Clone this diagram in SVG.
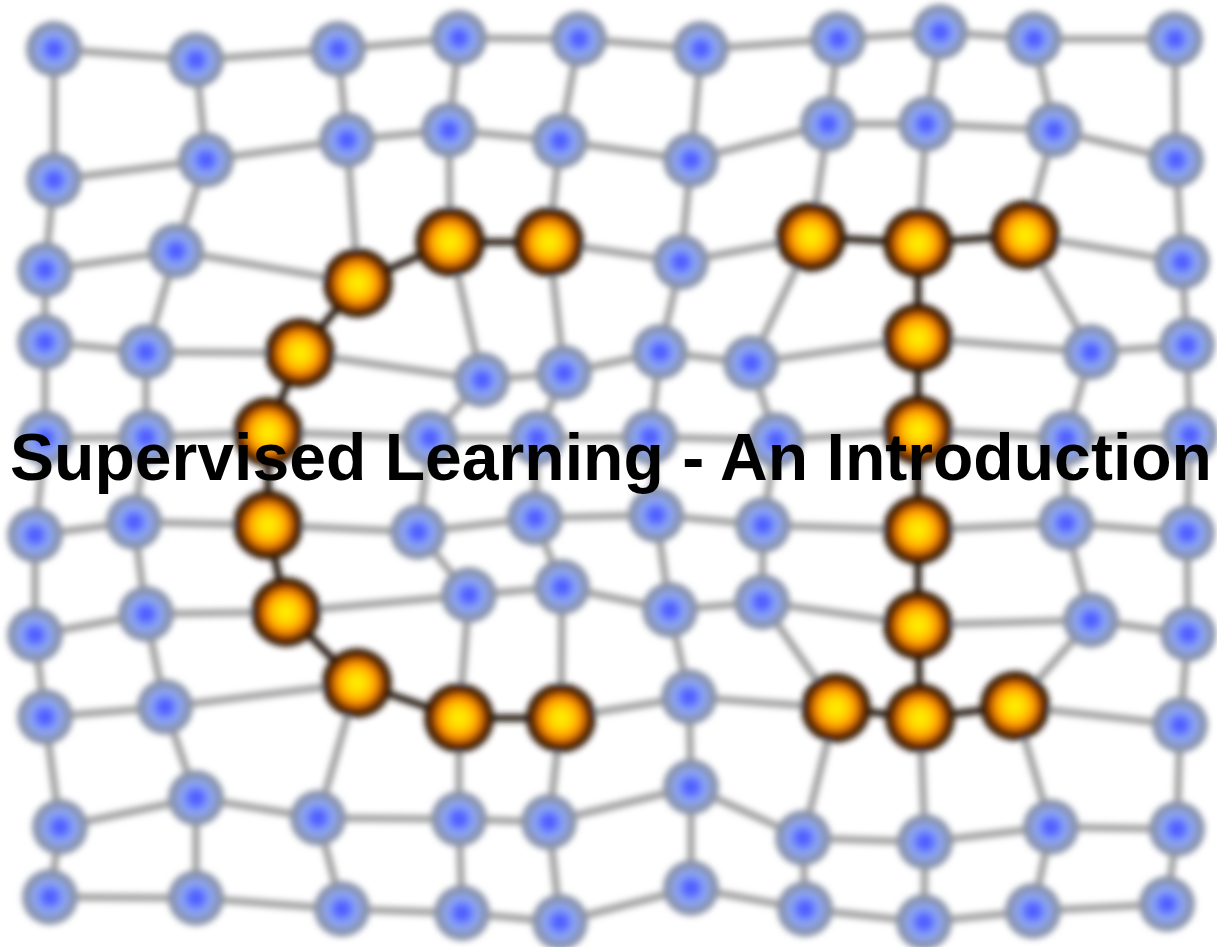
<svg xmlns="http://www.w3.org/2000/svg" xmlns:xlink="http://www.w3.org/1999/xlink" width="1217" height="947" viewBox="0 0 1217 947">
<style>
.e{stroke:#a0a0a0;stroke-width:7.5;stroke-linecap:round}
.d{stroke:#261c12;stroke-width:7.5;stroke-linecap:round}
.t{font-family:"Liberation Sans",Arial,sans-serif;font-weight:bold;font-size:66px;fill:#000}
</style>
<defs>
<radialGradient id="gb">
<stop offset="0" stop-color="#4a58ff"/>
<stop offset="0.22" stop-color="#5565ff"/>
<stop offset="0.46" stop-color="#849ff8"/>
<stop offset="0.62" stop-color="#8fa4e6"/>
<stop offset="0.78" stop-color="#8694b4"/>
<stop offset="1" stop-color="#8890a2"/>
</radialGradient>
<radialGradient id="go">
<stop offset="0" stop-color="#fff400"/>
<stop offset="0.3" stop-color="#ffd400"/>
<stop offset="0.55" stop-color="#ff9600"/>
<stop offset="0.7" stop-color="#b05000"/>
<stop offset="0.82" stop-color="#4a2206"/>
<stop offset="1" stop-color="#1c0e06"/>
</radialGradient>
<circle id="bn" r="28" fill="url(#gb)"/>
<circle id="on" r="35" fill="url(#go)"/>
<filter id="blur" filterUnits="userSpaceOnUse" x="-30" y="-30" width="1277" height="1007">
<feGaussianBlur stdDeviation="3"/>
</filter>
</defs>
<rect width="1217" height="947" fill="#fff"/>
<g filter="url(#blur)">
<g id="connectors">
<line class="e" x1="54" y1="49" x2="196" y2="60"/><line class="e" x1="196" y1="60" x2="338" y2="49"/><line class="e" x1="338" y1="49" x2="459" y2="38"/><line class="e" x1="459" y1="38" x2="579" y2="39"/><line class="e" x1="579" y1="39" x2="701" y2="49"/><line class="e" x1="701" y1="49" x2="838" y2="39"/><line class="e" x1="838" y1="39" x2="940" y2="32"/><line class="e" x1="940" y1="32" x2="1034" y2="39"/><line class="e" x1="1034" y1="39" x2="1175" y2="39"/>
<line class="e" x1="54" y1="180" x2="206" y2="160"/><line class="e" x1="206" y1="160" x2="347" y2="140"/><line class="e" x1="347" y1="140" x2="449" y2="130"/><line class="e" x1="449" y1="130" x2="560" y2="141"/><line class="e" x1="560" y1="141" x2="691" y2="160"/><line class="e" x1="691" y1="160" x2="828" y2="124"/><line class="e" x1="828" y1="124" x2="926" y2="124"/><line class="e" x1="926" y1="124" x2="1054" y2="130"/><line class="e" x1="1054" y1="130" x2="1176" y2="160"/>
<line class="e" x1="45" y1="270" x2="176" y2="251"/><line class="e" x1="176" y1="251" x2="358" y2="283"/><line class="d" x1="358" y1="283" x2="450" y2="242"/><line class="d" x1="450" y1="242" x2="549" y2="242"/><line class="e" x1="549" y1="242" x2="681" y2="262"/><line class="e" x1="681" y1="262" x2="811" y2="237"/><line class="d" x1="811" y1="237" x2="918" y2="243"/><line class="d" x1="918" y1="243" x2="1025" y2="235"/><line class="e" x1="1025" y1="235" x2="1182" y2="262"/>
<line class="e" x1="45" y1="342" x2="146" y2="352"/><line class="e" x1="146" y1="352" x2="300" y2="353"/><line class="e" x1="300" y1="353" x2="482" y2="380"/><line class="e" x1="482" y1="380" x2="564" y2="373"/><line class="e" x1="564" y1="373" x2="660" y2="352"/><line class="e" x1="660" y1="352" x2="751" y2="363"/><line class="e" x1="751" y1="363" x2="918" y2="338"/><line class="e" x1="918" y1="338" x2="1091" y2="352"/><line class="e" x1="1091" y1="352" x2="1187" y2="345"/>
<line class="e" x1="45" y1="438" x2="146" y2="437"/><line class="e" x1="146" y1="437" x2="268" y2="432"/><line class="e" x1="268" y1="432" x2="430" y2="438"/><line class="e" x1="430" y1="438" x2="537" y2="438"/><line class="e" x1="537" y1="438" x2="650" y2="437"/><line class="e" x1="650" y1="437" x2="776" y2="440"/><line class="e" x1="776" y1="440" x2="918" y2="430"/><line class="e" x1="918" y1="430" x2="1066" y2="438"/><line class="e" x1="1066" y1="438" x2="1190" y2="435"/>
<line class="e" x1="35" y1="535" x2="134" y2="522"/><line class="e" x1="134" y1="522" x2="268" y2="525"/><line class="e" x1="268" y1="525" x2="418" y2="532"/><line class="e" x1="418" y1="532" x2="535" y2="518"/><line class="e" x1="535" y1="518" x2="656" y2="515"/><line class="e" x1="656" y1="515" x2="763" y2="525"/><line class="e" x1="763" y1="525" x2="918" y2="530"/><line class="e" x1="918" y1="530" x2="1066" y2="523"/><line class="e" x1="1066" y1="523" x2="1187" y2="533"/>
<line class="e" x1="35" y1="635" x2="146" y2="614"/><line class="e" x1="146" y1="614" x2="286" y2="612"/><line class="e" x1="286" y1="612" x2="469" y2="595"/><line class="e" x1="469" y1="595" x2="562" y2="587"/><line class="e" x1="562" y1="587" x2="670" y2="610"/><line class="e" x1="670" y1="610" x2="762" y2="602"/><line class="e" x1="762" y1="602" x2="918" y2="625"/><line class="e" x1="918" y1="625" x2="1091" y2="620"/><line class="e" x1="1091" y1="620" x2="1188" y2="634"/>
<line class="e" x1="45" y1="717" x2="165" y2="707"/><line class="e" x1="165" y1="707" x2="357" y2="683"/><line class="d" x1="357" y1="683" x2="459" y2="718"/><line class="d" x1="459" y1="718" x2="561" y2="718"/><line class="e" x1="561" y1="718" x2="689" y2="697"/><line class="e" x1="689" y1="697" x2="836" y2="708"/><line class="d" x1="836" y1="708" x2="920" y2="718"/><line class="d" x1="920" y1="718" x2="1015" y2="706"/><line class="e" x1="1015" y1="706" x2="1180" y2="725"/>
<line class="e" x1="60" y1="827" x2="196" y2="798"/><line class="e" x1="196" y1="798" x2="318" y2="818"/><line class="e" x1="318" y1="818" x2="459" y2="819"/><line class="e" x1="459" y1="819" x2="549" y2="822"/><line class="e" x1="549" y1="822" x2="691" y2="787"/><line class="e" x1="691" y1="787" x2="803" y2="838"/><line class="e" x1="803" y1="838" x2="925" y2="842"/><line class="e" x1="925" y1="842" x2="1051" y2="827"/><line class="e" x1="1051" y1="827" x2="1177" y2="829"/>
<line class="e" x1="50" y1="897" x2="196" y2="898"/><line class="e" x1="196" y1="898" x2="342" y2="909"/><line class="e" x1="342" y1="909" x2="462" y2="913"/><line class="e" x1="462" y1="913" x2="560" y2="922"/><line class="e" x1="560" y1="922" x2="691" y2="888"/><line class="e" x1="691" y1="888" x2="805" y2="909"/><line class="e" x1="805" y1="909" x2="924" y2="922"/><line class="e" x1="924" y1="922" x2="1033" y2="911"/><line class="e" x1="1033" y1="911" x2="1167" y2="904"/>
<line class="e" x1="54" y1="49" x2="54" y2="180"/><line class="e" x1="54" y1="180" x2="45" y2="270"/><line class="e" x1="45" y1="270" x2="45" y2="342"/><line class="e" x1="45" y1="342" x2="45" y2="438"/><line class="e" x1="45" y1="438" x2="35" y2="535"/><line class="e" x1="35" y1="535" x2="35" y2="635"/><line class="e" x1="35" y1="635" x2="45" y2="717"/><line class="e" x1="45" y1="717" x2="60" y2="827"/><line class="e" x1="60" y1="827" x2="50" y2="897"/>
<line class="e" x1="196" y1="60" x2="206" y2="160"/><line class="e" x1="206" y1="160" x2="176" y2="251"/><line class="e" x1="176" y1="251" x2="146" y2="352"/><line class="e" x1="146" y1="352" x2="146" y2="437"/><line class="e" x1="146" y1="437" x2="134" y2="522"/><line class="e" x1="134" y1="522" x2="146" y2="614"/><line class="e" x1="146" y1="614" x2="165" y2="707"/><line class="e" x1="165" y1="707" x2="196" y2="798"/><line class="e" x1="196" y1="798" x2="196" y2="898"/>
<line class="e" x1="338" y1="49" x2="347" y2="140"/><line class="e" x1="347" y1="140" x2="358" y2="283"/><line class="d" x1="358" y1="283" x2="300" y2="353"/><line class="d" x1="300" y1="353" x2="268" y2="432"/><line class="d" x1="268" y1="432" x2="268" y2="525"/><line class="d" x1="268" y1="525" x2="286" y2="612"/><line class="d" x1="286" y1="612" x2="357" y2="683"/><line class="e" x1="357" y1="683" x2="318" y2="818"/><line class="e" x1="318" y1="818" x2="342" y2="909"/>
<line class="e" x1="459" y1="38" x2="449" y2="130"/><line class="e" x1="449" y1="130" x2="450" y2="242"/><line class="e" x1="450" y1="242" x2="482" y2="380"/><line class="e" x1="482" y1="380" x2="430" y2="438"/><line class="e" x1="430" y1="438" x2="418" y2="532"/><line class="e" x1="418" y1="532" x2="469" y2="595"/><line class="e" x1="469" y1="595" x2="459" y2="718"/><line class="e" x1="459" y1="718" x2="459" y2="819"/><line class="e" x1="459" y1="819" x2="462" y2="913"/>
<line class="e" x1="579" y1="39" x2="560" y2="141"/><line class="e" x1="560" y1="141" x2="549" y2="242"/><line class="e" x1="549" y1="242" x2="564" y2="373"/><line class="e" x1="564" y1="373" x2="537" y2="438"/><line class="e" x1="537" y1="438" x2="535" y2="518"/><line class="e" x1="535" y1="518" x2="562" y2="587"/><line class="e" x1="562" y1="587" x2="561" y2="718"/><line class="e" x1="561" y1="718" x2="549" y2="822"/><line class="e" x1="549" y1="822" x2="560" y2="922"/>
<line class="e" x1="701" y1="49" x2="691" y2="160"/><line class="e" x1="691" y1="160" x2="681" y2="262"/><line class="e" x1="681" y1="262" x2="660" y2="352"/><line class="e" x1="660" y1="352" x2="650" y2="437"/><line class="e" x1="650" y1="437" x2="656" y2="515"/><line class="e" x1="656" y1="515" x2="670" y2="610"/><line class="e" x1="670" y1="610" x2="689" y2="697"/><line class="e" x1="689" y1="697" x2="691" y2="787"/><line class="e" x1="691" y1="787" x2="691" y2="888"/>
<line class="e" x1="838" y1="39" x2="828" y2="124"/><line class="e" x1="828" y1="124" x2="811" y2="237"/><line class="e" x1="811" y1="237" x2="751" y2="363"/><line class="e" x1="751" y1="363" x2="776" y2="440"/><line class="e" x1="776" y1="440" x2="763" y2="525"/><line class="e" x1="763" y1="525" x2="762" y2="602"/><line class="e" x1="762" y1="602" x2="836" y2="708"/><line class="e" x1="836" y1="708" x2="803" y2="838"/><line class="e" x1="803" y1="838" x2="805" y2="909"/>
<line class="e" x1="940" y1="32" x2="926" y2="124"/><line class="e" x1="926" y1="124" x2="918" y2="243"/><line class="d" x1="918" y1="243" x2="918" y2="338"/><line class="d" x1="918" y1="338" x2="918" y2="430"/><line class="d" x1="918" y1="430" x2="918" y2="530"/><line class="d" x1="918" y1="530" x2="918" y2="625"/><line class="d" x1="918" y1="625" x2="920" y2="718"/><line class="e" x1="920" y1="718" x2="925" y2="842"/><line class="e" x1="925" y1="842" x2="924" y2="922"/>
<line class="e" x1="1034" y1="39" x2="1054" y2="130"/><line class="e" x1="1054" y1="130" x2="1025" y2="235"/><line class="e" x1="1025" y1="235" x2="1091" y2="352"/><line class="e" x1="1091" y1="352" x2="1066" y2="438"/><line class="e" x1="1066" y1="438" x2="1066" y2="523"/><line class="e" x1="1066" y1="523" x2="1091" y2="620"/><line class="e" x1="1091" y1="620" x2="1015" y2="706"/><line class="e" x1="1015" y1="706" x2="1051" y2="827"/><line class="e" x1="1051" y1="827" x2="1033" y2="911"/>
<line class="e" x1="1175" y1="39" x2="1176" y2="160"/><line class="e" x1="1176" y1="160" x2="1182" y2="262"/><line class="e" x1="1182" y1="262" x2="1187" y2="345"/><line class="e" x1="1187" y1="345" x2="1190" y2="435"/><line class="e" x1="1190" y1="435" x2="1187" y2="533"/><line class="e" x1="1187" y1="533" x2="1188" y2="634"/><line class="e" x1="1188" y1="634" x2="1180" y2="725"/><line class="e" x1="1180" y1="725" x2="1177" y2="829"/><line class="e" x1="1177" y1="829" x2="1167" y2="904"/>
</g>
<g id="nodes">
<g id="n0-0"><use xlink:href="#bn" x="54" y="49"/></g><g id="n0-1"><use xlink:href="#bn" x="196" y="60"/></g><g id="n0-2"><use xlink:href="#bn" x="338" y="49"/></g><g id="n0-3"><use xlink:href="#bn" x="459" y="38"/></g><g id="n0-4"><use xlink:href="#bn" x="579" y="39"/></g><g id="n0-5"><use xlink:href="#bn" x="701" y="49"/></g><g id="n0-6"><use xlink:href="#bn" x="838" y="39"/></g><g id="n0-7"><use xlink:href="#bn" x="940" y="32"/></g><g id="n0-8"><use xlink:href="#bn" x="1034" y="39"/></g><g id="n0-9"><use xlink:href="#bn" x="1175" y="39"/></g>
<g id="n1-0"><use xlink:href="#bn" x="54" y="180"/></g><g id="n1-1"><use xlink:href="#bn" x="206" y="160"/></g><g id="n1-2"><use xlink:href="#bn" x="347" y="140"/></g><g id="n1-3"><use xlink:href="#bn" x="449" y="130"/></g><g id="n1-4"><use xlink:href="#bn" x="560" y="141"/></g><g id="n1-5"><use xlink:href="#bn" x="691" y="160"/></g><g id="n1-6"><use xlink:href="#bn" x="828" y="124"/></g><g id="n1-7"><use xlink:href="#bn" x="926" y="124"/></g><g id="n1-8"><use xlink:href="#bn" x="1054" y="130"/></g><g id="n1-9"><use xlink:href="#bn" x="1176" y="160"/></g>
<g id="n2-0"><use xlink:href="#bn" x="45" y="270"/></g><g id="n2-1"><use xlink:href="#bn" x="176" y="251"/></g><g id="n2-2"><use xlink:href="#on" x="358" y="283"/></g><g id="n2-3"><use xlink:href="#on" x="450" y="242"/></g><g id="n2-4"><use xlink:href="#on" x="549" y="242"/></g><g id="n2-5"><use xlink:href="#bn" x="681" y="262"/></g><g id="n2-6"><use xlink:href="#on" x="811" y="237"/></g><g id="n2-7"><use xlink:href="#on" x="918" y="243"/></g><g id="n2-8"><use xlink:href="#on" x="1025" y="235"/></g><g id="n2-9"><use xlink:href="#bn" x="1182" y="262"/></g>
<g id="n3-0"><use xlink:href="#bn" x="45" y="342"/></g><g id="n3-1"><use xlink:href="#bn" x="146" y="352"/></g><g id="n3-2"><use xlink:href="#on" x="300" y="353"/></g><g id="n3-3"><use xlink:href="#bn" x="482" y="380"/></g><g id="n3-4"><use xlink:href="#bn" x="564" y="373"/></g><g id="n3-5"><use xlink:href="#bn" x="660" y="352"/></g><g id="n3-6"><use xlink:href="#bn" x="751" y="363"/></g><g id="n3-7"><use xlink:href="#on" x="918" y="338"/></g><g id="n3-8"><use xlink:href="#bn" x="1091" y="352"/></g><g id="n3-9"><use xlink:href="#bn" x="1187" y="345"/></g>
<g id="n4-0"><use xlink:href="#bn" x="45" y="438"/></g><g id="n4-1"><use xlink:href="#bn" x="146" y="437"/></g><g id="n4-2"><use xlink:href="#on" x="268" y="432"/></g><g id="n4-3"><use xlink:href="#bn" x="430" y="438"/></g><g id="n4-4"><use xlink:href="#bn" x="537" y="438"/></g><g id="n4-5"><use xlink:href="#bn" x="650" y="437"/></g><g id="n4-6"><use xlink:href="#bn" x="776" y="440"/></g><g id="n4-7"><use xlink:href="#on" x="918" y="430"/></g><g id="n4-8"><use xlink:href="#bn" x="1066" y="438"/></g><g id="n4-9"><use xlink:href="#bn" x="1190" y="435"/></g>
<g id="n5-0"><use xlink:href="#bn" x="35" y="535"/></g><g id="n5-1"><use xlink:href="#bn" x="134" y="522"/></g><g id="n5-2"><use xlink:href="#on" x="268" y="525"/></g><g id="n5-3"><use xlink:href="#bn" x="418" y="532"/></g><g id="n5-4"><use xlink:href="#bn" x="535" y="518"/></g><g id="n5-5"><use xlink:href="#bn" x="656" y="515"/></g><g id="n5-6"><use xlink:href="#bn" x="763" y="525"/></g><g id="n5-7"><use xlink:href="#on" x="918" y="530"/></g><g id="n5-8"><use xlink:href="#bn" x="1066" y="523"/></g><g id="n5-9"><use xlink:href="#bn" x="1187" y="533"/></g>
<g id="n6-0"><use xlink:href="#bn" x="35" y="635"/></g><g id="n6-1"><use xlink:href="#bn" x="146" y="614"/></g><g id="n6-2"><use xlink:href="#on" x="286" y="612"/></g><g id="n6-3"><use xlink:href="#bn" x="469" y="595"/></g><g id="n6-4"><use xlink:href="#bn" x="562" y="587"/></g><g id="n6-5"><use xlink:href="#bn" x="670" y="610"/></g><g id="n6-6"><use xlink:href="#bn" x="762" y="602"/></g><g id="n6-7"><use xlink:href="#on" x="918" y="625"/></g><g id="n6-8"><use xlink:href="#bn" x="1091" y="620"/></g><g id="n6-9"><use xlink:href="#bn" x="1188" y="634"/></g>
<g id="n7-0"><use xlink:href="#bn" x="45" y="717"/></g><g id="n7-1"><use xlink:href="#bn" x="165" y="707"/></g><g id="n7-2"><use xlink:href="#on" x="357" y="683"/></g><g id="n7-3"><use xlink:href="#on" x="459" y="718"/></g><g id="n7-4"><use xlink:href="#on" x="561" y="718"/></g><g id="n7-5"><use xlink:href="#bn" x="689" y="697"/></g><g id="n7-6"><use xlink:href="#on" x="836" y="708"/></g><g id="n7-7"><use xlink:href="#on" x="920" y="718"/></g><g id="n7-8"><use xlink:href="#on" x="1015" y="706"/></g><g id="n7-9"><use xlink:href="#bn" x="1180" y="725"/></g>
<g id="n8-0"><use xlink:href="#bn" x="60" y="827"/></g><g id="n8-1"><use xlink:href="#bn" x="196" y="798"/></g><g id="n8-2"><use xlink:href="#bn" x="318" y="818"/></g><g id="n8-3"><use xlink:href="#bn" x="459" y="819"/></g><g id="n8-4"><use xlink:href="#bn" x="549" y="822"/></g><g id="n8-5"><use xlink:href="#bn" x="691" y="787"/></g><g id="n8-6"><use xlink:href="#bn" x="803" y="838"/></g><g id="n8-7"><use xlink:href="#bn" x="925" y="842"/></g><g id="n8-8"><use xlink:href="#bn" x="1051" y="827"/></g><g id="n8-9"><use xlink:href="#bn" x="1177" y="829"/></g>
<g id="n9-0"><use xlink:href="#bn" x="50" y="897"/></g><g id="n9-1"><use xlink:href="#bn" x="196" y="898"/></g><g id="n9-2"><use xlink:href="#bn" x="342" y="909"/></g><g id="n9-3"><use xlink:href="#bn" x="462" y="913"/></g><g id="n9-4"><use xlink:href="#bn" x="560" y="922"/></g><g id="n9-5"><use xlink:href="#bn" x="691" y="888"/></g><g id="n9-6"><use xlink:href="#bn" x="805" y="909"/></g><g id="n9-7"><use xlink:href="#bn" x="924" y="922"/></g><g id="n9-8"><use xlink:href="#bn" x="1033" y="911"/></g><g id="n9-9"><use xlink:href="#bn" x="1167" y="904"/></g>
</g>
</g>
<g id="title"><text class="t" x="10" y="480" textLength="1202" lengthAdjust="spacingAndGlyphs">Supervised Learning - An Introduction</text></g>
</svg>
